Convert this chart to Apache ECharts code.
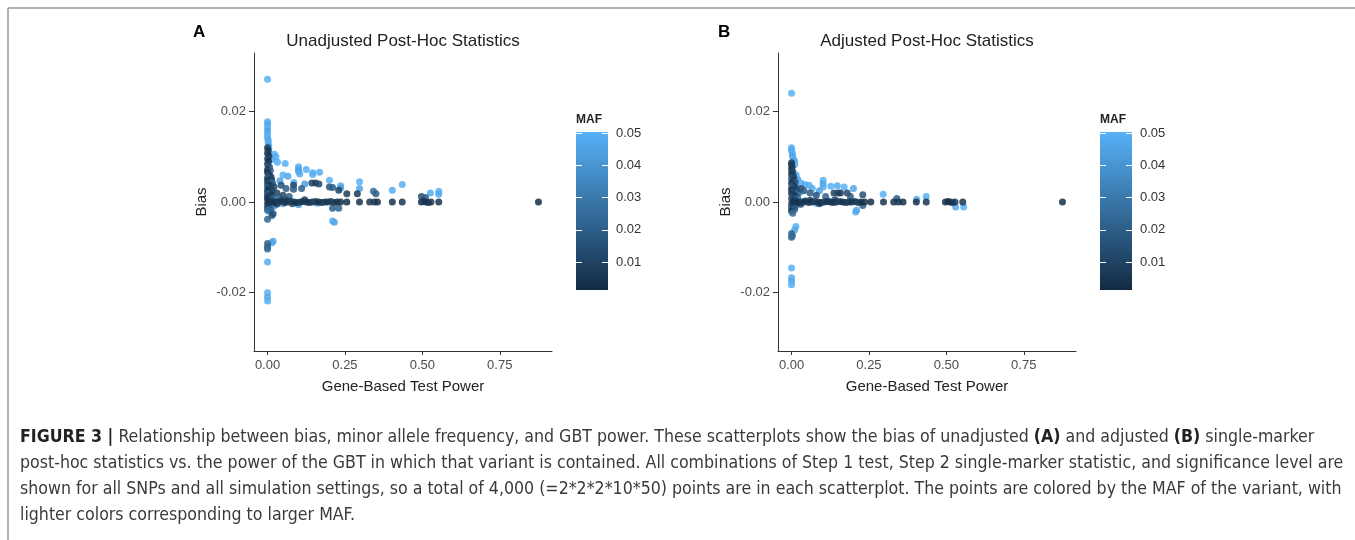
<!DOCTYPE html>
<html><head><meta charset="utf-8">
<script src="https://cdn.jsdelivr.net/npm/echarts@6/dist/echarts.min.js"></script>
<style>html,body{margin:0;padding:0;background:#fff}#c{width:1355px;height:540px}</style>
</head><body><div id="c"></div>
<script>
// ---- data: [power, bias, MAF] ----
const pointsA = [
  [0,0.0272,0.050],[0,0.0178,0.049],[0,0.0172,0.047],[0,0.0165,0.050],[0,0.0158,0.045],[0,0.0150,0.048],[0,0.0143,0.050],
  [0.002,0.0137,0.046],[0.002,0.0131,0.049],[0.004,0.0124,0.047],[0.004,0.0117,0.050],[0.006,0.0105,0.044],[0.022,0.0106,0.050],
  [0.027,0.0100,0.048],[0.014,0.0094,0.046],[0.032,0.0088,0.049],[0.057,0.0085,0.050],[0.100,0.0078,0.050],[0.100,0.0073,0.047],
  [0.100,0.0068,0.045],[0.104,0.0062,0.049],[0.125,0.0072,0.050],[0.146,0.0065,0.048],[0.146,0.0061,0.050],[0.168,0.0066,0.049],
  [0.050,0.0060,0.050],[0.066,0.0057,0.047],[0.200,0.0048,0.050],[0.236,0.0036,0.048],[0.236,0.0031,0.044],[0.297,0.0045,0.050],
  [0.297,0.0030,0.046],[0.403,0.0026,0.049],[0.435,0.0039,0.050],[0.526,0.0020,0.048],[0.553,0.0024,0.050],[0.553,0.0017,0.047],
  [0.040,0.0047,0.045],[0.085,0.0043,0.048],[0.120,0.0040,0.044],[0.210,-0.0042,0.050],[0.216,-0.0045,0.047],[0.014,-0.0090,0.050],
  [0.018,-0.0087,0.046],[0,-0.0133,0.049],[0,-0.0201,0.050],[0,-0.0211,0.047],[0,-0.0219,0.050],[0.050,-0.0004,0.046],
  [0.100,-0.0006,0.044],[0.010,0.0006,0.050],[0.020,-0.0010,0.048],[0.003,-0.0020,0.045],[0.160,-0.0003,0.047],
  [0,0.0120,0.008],[0.002,0.0114,0.005],[0,0.0108,0.010],[0.004,0.0102,0.006],[0,0.0096,0.012],[0.003,0.0090,0.004],
  [0,0.0084,0.009],[0.006,0.0078,0.015],[0,0.0072,0.007],[0.009,0.0070,0.020],[0,0.0066,0.005],[0.005,0.0060,0.012],
  [0.011,0.0056,0.008],[0,0.0054,0.018],[0.013,0.0050,0.010],[0,0.0048,0.006],[0.006,0.0044,0.014],[0.016,0.0042,0.022],
  [0,0.0040,0.009],[0.010,0.0036,0.005],[0.021,0.0034,0.012],[0,0.0032,0.016],[0.005,0.0028,0.007],[0.015,0.0026,0.010],
  [0,0.0024,0.004],[0.008,0.0020,0.013],[0,0.0018,0.020],[0.012,0.0016,0.006],[0,0.0012,0.008],[0.005,0.0010,0.011],
  [0,0.0006,0.003],[0.010,0.0004,0.009],[0,-0.0004,0.005],[0.005,-0.0008,0.015],[0,-0.0012,0.010],[0.010,-0.0015,0.020],
  [0,-0.0018,0.025],[0.014,-0.0030,0.018],[0,-0.0038,0.022],[0.018,-0.0026,0.014],[0,-0.0092,0.022],[0,-0.0100,0.020],[0,-0.0104,0.024],
  [0.143,0.0042,0.010],[0.155,0.0042,0.008],[0.166,0.0040,0.012],[0.200,0.0033,0.015],[0.210,0.0032,0.020],[0.230,0.0026,0.010],
  [0.256,0.0018,0.008],[0.290,0.0018,0.006],[0.342,0.0024,0.025],[0.350,0.0018,0.020],[0.497,0.0012,0.015],[0.510,0.0010,0.018],
  [0.084,0.0037,0.012],[0.084,0.0028,0.018],[0.110,0.0030,0.020],[0.044,0.0037,0.015],[0.060,0.0030,0.020],[0.210,-0.0014,0.020],
  [0.230,-0.0014,0.022],[0.030,0.0020,0.010],[0.050,0.0015,0.012],[0.070,0.0012,0.020],
  [0.010,0.0005,0.010],[0.030,-0.0005,0.012],[0.060,0.0004,0.010],[0.080,-0.0004,0.015],[0.120,0.0005,0.012],[0.020,0.0008,0.020],[0.040,0.0007,0.018],
  [0.005,0.0000,0.004],[0.015,0.0001,0.006],[0.025,-0.0001,0.003],[0.035,0.0000,0.008],[0.045,0.0002,0.005],[0.055,-0.0001,0.007],
  [0.065,0.0000,0.004],[0.075,0.0001,0.009],[0.085,0.0000,0.006],[0.095,-0.0001,0.003],[0.105,0.0000,0.008],[0.115,0.0001,0.005],
  [0.125,0.0000,0.007],[0.135,-0.0001,0.004],[0.145,0.0000,0.006],[0.155,0.0001,0.009],[0.165,0.0000,0.003],[0.175,-0.0001,0.005],
  [0.185,0.0000,0.007],[0.195,0.0000,0.004],[0.205,0.0001,0.006],[0.215,-0.0001,0.008],[0.225,0.0000,0.005],[0.236,0.0000,0.004],
  [0.256,0.0000,0.003],[0.297,0.0000,0.005],[0.330,0.0000,0.004],[0.345,0.0000,0.006],[0.355,0.0000,0.003],[0.403,0.0000,0.004],
  [0.435,0.0000,0.005],[0.497,0.0000,0.003],[0.505,0.0001,0.006],[0.512,0.0000,0.004],[0.520,-0.0001,0.005],[0.528,0.0000,0.007],
  [0.553,0.0000,0.004],[0.875,0.0000,0.003]
];
const pointsB = [
  [0,0.0241,0.050],[0,0.0120,0.049],[0,0.0114,0.047],[0.003,0.0108,0.050],[0.003,0.0102,0.045],[0.006,0.0095,0.049],
  [0.010,0.0090,0.047],[0.010,0.0083,0.050],[0.015,0.0060,0.048],[0.020,0.0050,0.046],[0.030,0.0042,0.050],[0.045,0.0038,0.047],
  [0.057,0.0037,0.050],[0.067,0.0030,0.048],[0.102,0.0048,0.050],[0.102,0.0040,0.046],[0.102,0.0033,0.049],[0.127,0.0035,0.050],
  [0.148,0.0036,0.048],[0.170,0.0033,0.050],[0.200,0.0030,0.047],[0.090,0.0025,0.045],[0.296,0.0017,0.050],[0.404,0.0006,0.049],
  [0.435,0.0012,0.050],[0.530,-0.0011,0.048],[0.556,-0.0011,0.050],[0.207,-0.0022,0.050],[0.210,-0.0018,0.047],[0.014,-0.0054,0.050],
  [0.010,-0.0062,0.047],[0,-0.0146,0.050],[0,-0.0168,0.049],[0,-0.0175,0.047],[0,-0.0183,0.050],
  [0.040,0.0000,0.046],[0.080,-0.0003,0.044],[0.120,0.0002,0.048],[0.012,0.0030,0.050],[0.025,0.0020,0.046],
  [0,0.0087,0.008],[0,0.0082,0.005],[0.002,0.0077,0.010],[0,0.0072,0.006],[0.004,0.0067,0.012],[0,0.0062,0.004],
  [0.006,0.0057,0.009],[0,0.0052,0.015],[0.008,0.0048,0.007],[0.012,0.0044,0.020],[0,0.0042,0.005],[0.005,0.0038,0.012],
  [0.010,0.0034,0.008],[0,0.0032,0.018],[0.015,0.0028,0.010],[0,0.0026,0.006],[0.006,0.0022,0.014],[0.020,0.0020,0.022],
  [0,0.0018,0.009],[0.010,0.0014,0.005],[0.004,0.0010,0.012],[0,0.0007,0.016],[0.008,0.0004,0.007],[0,-0.0004,0.010],
  [0.006,-0.0008,0.004],[0,-0.0012,0.013],[0.010,-0.0016,0.020],[0,-0.0020,0.006],[0.004,-0.0025,0.025],[0.012,-0.0010,0.018],
  [0,-0.0070,0.022],[0,-0.0078,0.020],[0.003,-0.0074,0.025],
  [0.137,0.0020,0.010],[0.150,0.0020,0.012],[0.158,0.0020,0.008],[0.180,0.0020,0.012],[0.230,0.0016,0.015],[0.230,-0.0008,0.020],
  [0.060,0.0020,0.020],[0.080,0.0015,0.015],[0.030,0.0030,0.012],[0.040,0.0025,0.018],[0.340,0.0008,0.020],[0.110,0.0012,0.022],
  [0.190,0.0012,0.018],
  [0.010,0.0005,0.010],[0.030,-0.0005,0.012],[0.060,0.0004,0.010],[0.090,-0.0004,0.015],[0.140,0.0005,0.012],[0.020,0.0008,0.020],
  [0.005,0.0000,0.004],[0.015,0.0001,0.006],[0.025,-0.0001,0.003],[0.035,0.0000,0.008],[0.045,0.0002,0.005],[0.055,-0.0001,0.007],
  [0.065,0.0000,0.004],[0.075,0.0001,0.009],[0.085,0.0000,0.006],[0.095,-0.0001,0.003],[0.105,0.0000,0.008],[0.115,0.0001,0.005],
  [0.125,0.0000,0.007],[0.135,-0.0001,0.004],[0.145,0.0000,0.006],[0.155,0.0001,0.009],[0.165,0.0000,0.003],[0.175,-0.0001,0.005],
  [0.185,0.0000,0.007],[0.195,0.0000,0.004],[0.205,0.0001,0.006],[0.215,-0.0001,0.008],[0.225,0.0000,0.005],[0.236,0.0000,0.004],
  [0.256,0.0000,0.003],[0.297,0.0000,0.005],[0.330,0.0000,0.004],[0.345,0.0000,0.006],[0.360,0.0000,0.003],[0.403,0.0000,0.004],
  [0.435,0.0000,0.005],[0.497,0.0000,0.003],[0.505,0.0001,0.006],[0.512,0.0000,0.004],[0.520,-0.0001,0.005],[0.528,0.0000,0.007],
  [0.553,0.0000,0.004],[0.875,0.0000,0.003]
];
const powerTicks = [0, 0.25, 0.5, 0.75];
const biasTicks = [-0.02, 0, 0.02];
const mafTicks = [0.01, 0.02, 0.03, 0.04, 0.05];
const mafRange = [0.0014, 0.0503];
const powerRange = [-0.04375, 0.91875];
const biasRange = [-0.033, 0.033];
const panelTitles = ['Unadjusted Post-Hoc Statistics', 'Adjusted Post-Hoc Statistics'];
const panelLetters = ['A', 'B'];
const captionLines = [
  '{b|FIGURE 3 |} Relationship between bias, minor allele frequency, and GBT power. These scatterplots show the bias of unadjusted {b|(A)} and adjusted {b|(B)} single-marker',
  'post-hoc statistics vs. the power of the GBT in which that variant is contained. All combinations of Step 1 test, Step 2 single-marker statistic, and significance level are',
  'shown for all SNPs and all simulation settings, so a total of 4,000 (=2*2*2*10*50) points are in each scatterplot. The points are colored by the MAF of the variant, with',
  'lighter colors corresponding to larger MAF.'
];

const FONT = '"Liberation Sans", Arial, sans-serif';
const CAPFONT = '"Liberation Sans Narrow", "DejaVu Sans Condensed", "Liberation Sans", sans-serif';
const CAPSIZE = 17.6;
const chart = echarts.init(document.getElementById('c'));

const mainGrids = [{left: 254, top: 53, width: 298, height: 298}, {left: 778, top: 53, width: 298, height: 298}];
const cbGrids = [{left: 576, top: 132, width: 32, height: 158}, {left: 1100, top: 132, width: 32, height: 158}];

function mainX(i) {
  return {
    type: 'value', gridIndex: i, min: powerRange[0], max: powerRange[1],
    axisLine: {show: true, onZero: false, lineStyle: {color: '#333', width: 1}},
    axisTick: {show: true, length: 4, customValues: powerTicks, lineStyle: {color: '#333'}},
    axisLabel: {customValues: powerTicks, formatter: v => v.toFixed(2), color: '#4d4d4d', fontSize: 13, margin: 8, fontFamily: FONT},
    splitLine: {show: false},
    name: 'Gene-Based Test Power', nameLocation: 'middle', nameGap: 28,
    nameTextStyle: {fontSize: 15, color: '#222', fontFamily: FONT}
  };
}
function mainY(i) {
  return {
    type: 'value', gridIndex: i, min: biasRange[0], max: biasRange[1],
    axisLine: {show: true, onZero: false, lineStyle: {color: '#333', width: 1}},
    axisTick: {show: true, length: 5, customValues: biasTicks, lineStyle: {color: '#333'}},
    axisLabel: {customValues: biasTicks, formatter: v => v.toFixed(2), color: '#4d4d4d', fontSize: 13, margin: 8, fontFamily: FONT},
    splitLine: {show: false},
    name: 'Bias', nameLocation: 'middle', nameGap: 45,
    nameTextStyle: {fontSize: 15, color: '#222', fontFamily: FONT}
  };
}
function cbX(i) {
  return {type: 'category', gridIndex: i, data: ['MAF'], show: false};
}
function cbY(i, pos) {
  const o = {
    type: 'value', gridIndex: i, position: pos, min: mafRange[0], max: mafRange[1], z: 10,
    axisLine: {show: false},
    axisTick: {show: true, inside: true, length: 6, customValues: mafTicks, lineStyle: {color: '#fff', width: 1}},
    axisLabel: {show: pos === 'right', customValues: mafTicks, formatter: v => v.toFixed(2), color: '#333', fontSize: 13, margin: 8, fontFamily: FONT},
    splitLine: {show: false}
  };
  if (pos === 'left') {
    o.name = 'MAF'; o.nameLocation = 'end'; o.nameGap = 6;
    o.nameTextStyle = {fontWeight: 'bold', fontSize: 12, color: '#222', align: 'left', verticalAlign: 'bottom', fontFamily: FONT};
  }
  return o;
}
const grad = () => new echarts.graphic.LinearGradient(0, 0, 0, 1, [{offset: 0, color: '#56B1F7'}, {offset: 1, color: '#132B43'}]);

const graphics = [
  {type: 'line', shape: {x1: 8, y1: 8, x2: 1355, y2: 8}, style: {stroke: '#9a9a9a', lineWidth: 1.5}},
  {type: 'line', shape: {x1: 8, y1: 8, x2: 8, y2: 540}, style: {stroke: '#9a9a9a', lineWidth: 1.5}}
];
[0, 1].forEach(i => {
  const g = mainGrids[i];
  graphics.push({type: 'text', x: g.left + g.width / 2, y: 41, style: {text: panelTitles[i], fill: '#222', font: '17px ' + FONT, textAlign: 'center', textVerticalAlign: 'middle'}});
});
graphics.push({type: 'text', x: 193, y: 32, style: {text: panelLetters[0], fill: '#000', font: 'bold 17px ' + FONT, textAlign: 'left', textVerticalAlign: 'middle'}});
graphics.push({type: 'text', x: 718, y: 32, style: {text: panelLetters[1], fill: '#000', font: 'bold 17px ' + FONT, textAlign: 'left', textVerticalAlign: 'middle'}});
const capY = [437, 463, 489, 515];
captionLines.forEach((t, k) => {
  graphics.push({type: 'text', x: 20, y: capY[k], style: {
    text: t, fill: '#3a3a3a', font: CAPSIZE + 'px ' + CAPFONT, textAlign: 'left', textVerticalAlign: 'middle',
    rich: {b: {fontWeight: 'bold', fontSize: CAPSIZE, fontFamily: CAPFONT, fill: '#222'}}
  }});
});

chart.setOption({
  animation: false,
  backgroundColor: '#fff',
  textStyle: {fontFamily: FONT},
  grid: mainGrids.concat(cbGrids).map(g => Object.assign({containLabel: false}, g)),
  xAxis: [mainX(0), mainX(1), cbX(2), cbX(3)],
  yAxis: [mainY(0), mainY(1), cbY(2, 'left'), cbY(2, 'right'), cbY(3, 'left'), cbY(3, 'right')],
  visualMap: {
    type: 'continuous', show: false, seriesIndex: [0, 1], dimension: 2,
    min: mafRange[0], max: mafRange[1], inRange: {color: ['#132B43', '#56B1F7']}
  },
  series: [
    {type: 'scatter', xAxisIndex: 0, yAxisIndex: 0, data: pointsA, symbolSize: 7, itemStyle: {opacity: 0.85}},
    {type: 'scatter', xAxisIndex: 1, yAxisIndex: 1, data: pointsB, symbolSize: 7, itemStyle: {opacity: 0.85}},
    {type: 'bar', xAxisIndex: 2, yAxisIndex: 2, data: [mafRange[1]], barWidth: '100%', silent: true, itemStyle: {color: grad()}},
    {type: 'bar', xAxisIndex: 3, yAxisIndex: 4, data: [mafRange[1]], barWidth: '100%', silent: true, itemStyle: {color: grad()}}
  ],
  graphic: graphics
});
</script></body></html>
